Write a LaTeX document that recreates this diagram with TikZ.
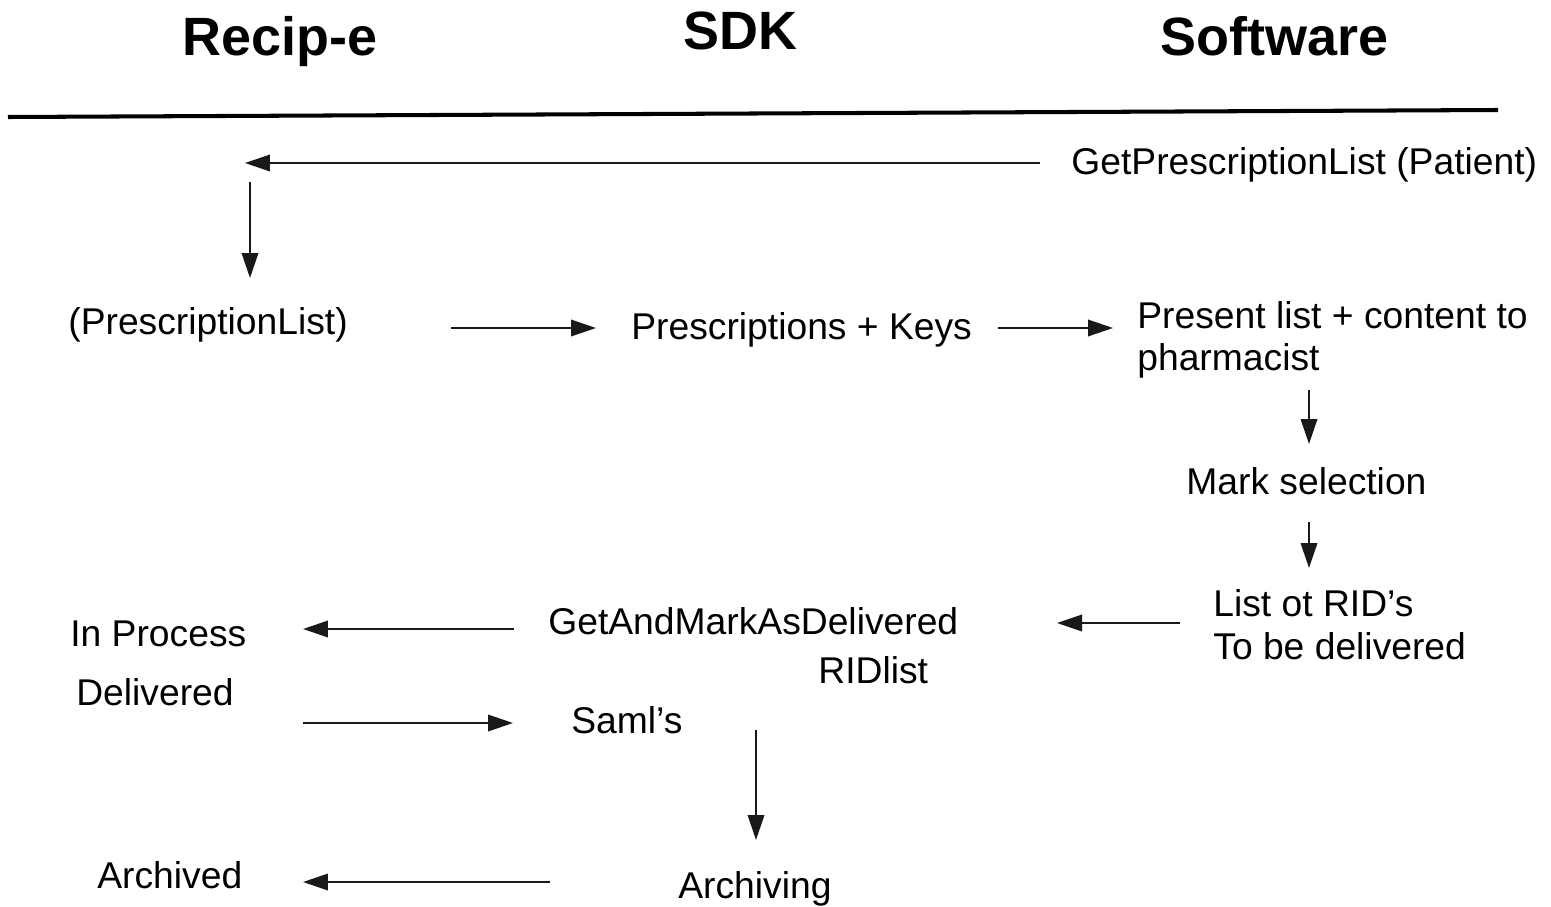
\documentclass[tikz,border=0pt]{standalone}
\usepackage{fontspec}
\setmainfont{Liberation Sans}
\usetikzlibrary{arrows.meta}
\tikzset{
  lbl/.style={inner sep=0pt, anchor=base west, font=\fontsize{21.2pt}{25.5pt}\selectfont, align=left},
  ttl/.style={inner sep=0pt, anchor=base west, font=\fontsize{30.7pt}{36pt}\selectfont\bfseries},
  flow/.style={line width=1.1pt, draw=black!90, -{Triangle[length=0.5cm,width=0.33cm]}},
  rule/.style={line width=2.3pt}
}
\begin{document}
\begin{tikzpicture}[x=0.02cm,y=-0.02cm]
\useasboundingbox (0,0) rectangle (1551,906);
% titles
\node[ttl] (t1) at (182,55) {Recip-e};
\node[ttl] (t2) at (683,49) {SDK};
\node[ttl] (t3) at (1160,55) {Software};
\coordinate (rl) at (8,117);
\coordinate (rr) at (1498,110);
\draw[rule] (rl) -- (rr);
% texts
\node[lbl] (gpl) at (1071,174) {GetPrescriptionList (Patient)};
\node[lbl] (pl) at (68,334) {(PrescriptionList)};
\node[lbl] (pk) at (631,339) {Prescriptions + Keys};
\node[lbl] (pres) at (1137,328) {Present list + content to};
\node[lbl] (pharm) at (1137,370) {pharmacist};
\node[lbl] (mark) at (1186,494) {Mark selection};
\node[lbl] (rid) at (1213,616) {List ot RID’s};
\node[lbl] (tbd) at (1213,659) {To be delivered};
\node[lbl] (gam) at (548,634) {GetAndMarkAsDelivered};
\node[lbl] (ridl) at (818,683) {RIDlist};
\node[lbl] (inp) at (70,646) {In Process};
\node[lbl] (del) at (76,705) {Delivered};
\node[lbl] (saml) at (571,733) {Saml’s};
\node[lbl] (arch) at (97,888) {Archived};
\node[lbl] (archg) at (678,898) {Archiving};
% connector end points
\coordinate (a1s) at (1040,163); \coordinate (a1e) at (245,163);
\coordinate (a2s) at (250,182);  \coordinate (a2e) at (250,278);
\coordinate (a3s) at (451,328);  \coordinate (a3e) at (596,328);
\coordinate (a4s) at (998,328);  \coordinate (a4e) at (1113,328);
\coordinate (a5s) at (1309,390); \coordinate (a5e) at (1309,444);
\coordinate (a6s) at (1309,522); \coordinate (a6e) at (1309,568);
\coordinate (a7s) at (1180,623); \coordinate (a7e) at (1057,623);
\coordinate (a8s) at (514,629);  \coordinate (a8e) at (303,629);
\coordinate (a9s) at (303,723);  \coordinate (a9e) at (513,723);
\coordinate (a10s) at (756,730); \coordinate (a10e) at (756,840);
\coordinate (a11s) at (550,882); \coordinate (a11e) at (303,882);
\draw[flow] (a1s) -- (a1e);
\draw[flow] (a2s) -- (a2e);
\draw[flow] (a3s) -- (a3e);
\draw[flow] (a4s) -- (a4e);
\draw[flow] (a5s) -- (a5e);
\draw[flow] (a6s) -- (a6e);
\draw[flow] (a7s) -- (a7e);
\draw[flow] (a8s) -- (a8e);
\draw[flow] (a9s) -- (a9e);
\draw[flow] (a10s) -- (a10e);
\draw[flow] (a11s) -- (a11e);
\end{tikzpicture}
\end{document}
